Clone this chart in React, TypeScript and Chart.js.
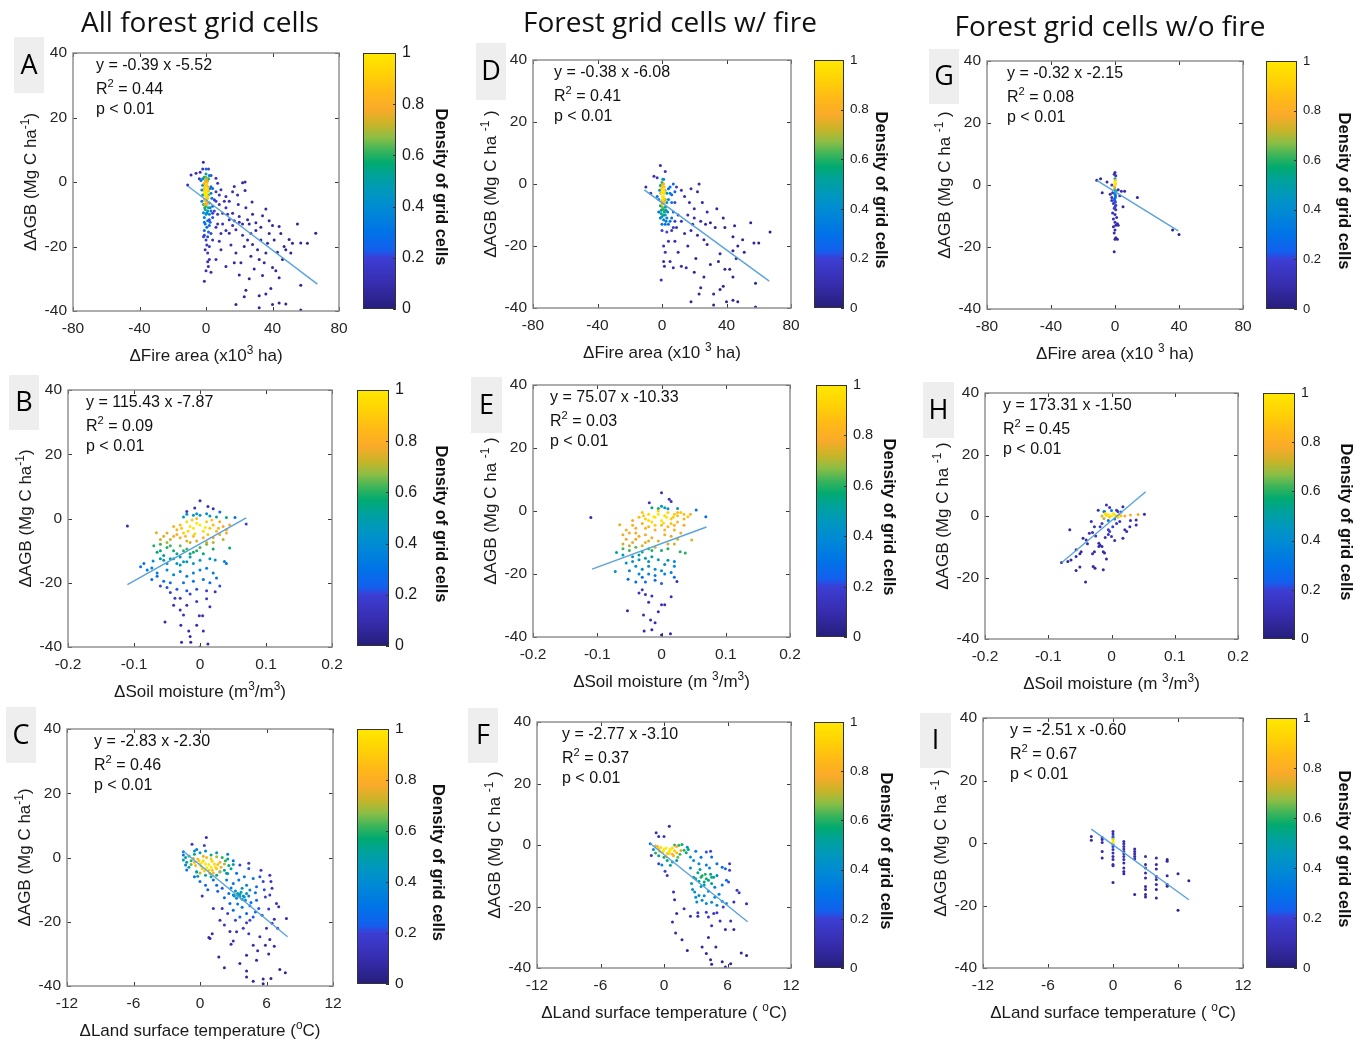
import React, { useEffect, useRef } from 'react';
import { Chart, registerables } from 'chart.js';
Chart.register(...registerables);

type P = [number, number, number]; // [x, ΔAGB, density]

// ---------- DATA ----------
const ptsA: P[] = [
  [0,-1,0.9],[0.5,-2,1],[-0.5,-3,1],[0.5,-3.5,1],[0,-4.5,0.95],[1,-5,0.9],[-1,-5.5,0.85],[0,-6,0.85],[1,-2.5,0.9],[-1,-2,0.85],[0,0,0.8],[0.5,1,0.7],
  [-1,1.5,0.55],[0,2.5,0.5],[1.5,1,0.55],[-1.5,-7,0.6],[0,-7.5,0.6],[1.5,-8,0.55],[-0.5,-8.5,0.5],[2,-6.5,0.55],[-2,-4,0.5],[1.5,-4,0.6],
  [-1.5,-9.5,0.4],[0.5,-9.5,0.4],[2,-10,0.35],[-1,-11,0.35],[1,-12,0.3],[-0.5,-13,0.3],[0.5,-14,0.28],[-1,-15,0.25],[1.5,-15.5,0.25],[2.5,-12.5,0.25],[3,-9,0.3],[-2,-1,0.4],[2.5,-2,0.35],[-2.5,-6,0.35],[3.5,-5,0.3],[-3,0.5,0.3],[4,-7.5,0.25],[4,-11,0.22],
  [-1.6,6.1,0.1],[-9,2.2,0.1],[-6,2.7,0.12],[-11,-0.9,0.1],[-4,1,0.15],[-3.5,3,0.12],[6,1.2,0.15],[7,-0.4,0.15],[17,-1.4,0.1],[22,-0.2,0.08],[23.5,0,0.08],[23.5,-2.6,0.08],[9,-2.4,0.15],[12,-4.5,0.12],[16,-3,0.12],[27.7,-6.2,0.08],[19.4,-7,0.1],[36,-8.4,0.07],[30,-12.6,0.08],[34,-10.5,0.08],[40,-13.5,0.06],[44,-13.8,0.06],[55,-13,0.05],[66,-15.9,0.04],[61,-19,0.05],[57,-18.9,0.05],[50,-17.8,0.05],[52,-19,0.05],[47,-20,0.06],[48,-21,0.06],[43,-21.8,0.06],[36,-22,0.07],[35,-25,0.07],[40,-26.5,0.06],[42,-27.5,0.06],[44,-29.7,0.05],[39,-33,0.05],[36,-34.7,0.05],[32,-35.3,0.05],[26,-30,0.06],[24,-33.6,0.06],[23,-35.6,0.05],[20,-28.8,0.06],[18,-38,0.05],[32,-39,0.05],[40,-38,0.05],[44,-37.5,0.05],[48,-37.8,0.05],[57,-39.7,0.04],[57,-32,0.05],[12,-26.2,0.08],[1,-24.7,0.12],[1.4,-26.2,0.12],[-1,-30.8,0.1],[2,-20,0.15],[4,-18,0.15],[8,-18.4,0.12],[14,-15.9,0.1],[18,-14.8,0.1],[22,-16.5,0.09],[25,-18,0.08],[28,-19.4,0.08],[25,-11.7,0.09],[20,-10.7,0.1],[16,-9.7,0.1],[14,-11.7,0.11],[10,-9.7,0.12],[8,-7,0.14],[5,-5.5,0.17],[4,-9.7,0.18],[2,-11.7,0.2],[0,-18,0.18],[1,-22,0.15],[-1,-16.5,0.2],[6,-14,0.14],[10,-13,0.12],[12,-8,0.12],[14,-6,0.11],[19,-4,0.1],[24,-8,0.09],[28,-10,0.08],[30,-15,0.07],[33,-18,0.07],[38,-16,0.06],[31,-21,0.07],[27,-23,0.07],[23,-20,0.08],[18,-22,0.08],[15,-19.5,0.09],[9,-21,0.1],[6,-24,0.1],[3,-28,0.1],[21,-25,0.07],[29,-27,0.06],[34,-29,0.06],[46,-24,0.05],[51,-22,0.05],[45,-16,0.06],[38,-12,0.06],[33,-14,0.07],[26,-13,0.08],[20,-12.5,0.09],[16,-13.5,0.1],[12,-15,0.1],[7,-10,0.14],[6,-3,0.16],[3,-1.5,0.25],[3,2,0.2],[-2,4,0.15],[1.5,4,0.2],
  [-0.5,-1.5,0.95],[0.5,-0.5,0.9],[-0.3,-4,1],[0.8,-4.2,0.95],[-0.8,-3.5,0.95],[0.3,-5.5,0.9],[-0.6,-6.8,0.75],[0.9,-6.5,0.75],[1.2,-1.5,0.85],[-1.2,-0.5,0.8],[0,1.5,0.65],[-0.5,0.5,0.75],[1,0.3,0.7],[-1,-2.8,0.9],[1.5,-2.8,0.85],[0.2,-7,0.8],[-0.8,-8,0.6],[1,-9,0.45],[0,-10,0.42],[-1,-12.5,0.3],[2.5,-8,0.35],[-2.5,-2.5,0.4],[3,-3.5,0.35],[2,-13.5,0.25],[-1.5,-17,0.2],[1,-17,0.22],[0.5,-19.5,0.18],[-0.5,-21,0.15],[2,-24,0.12],[0,-27.5,0.1],[-2,1,0.4],[2,2,0.35],[0,4,0.25],[4,-2,0.3],[5,-9,0.2],[3,-16,0.2],[6,-6,0.2],[8,-4,0.15],[7,-13,0.14],[9,-16,0.12],[11,-6,0.12],[13,-10,0.11],[17,-12,0.1],[22,-13,0.09],[27,-16,0.07],[32,-24,0.06],[17,-25,0.07],[37,-19,0.06],[41,-18,0.05]
];

const ptsB: P[] = [
  [0,-2,1],[-0.01,-3,1],[-0.02,-1,0.95],[0.005,-4,0.95],[-0.015,-2.5,1],[0.01,-1,0.9],[-0.025,-4.5,0.9],[0.015,-3,0.9],[-0.005,0,0.85],[-0.03,-2,0.85],[0.02,-2,0.85],[0.025,-4,0.82],[-0.035,-3.5,0.82],[0.03,-1,0.8],[0.035,-2.5,0.78],[-0.01,-5.5,0.85],[0.005,-6,0.8],
  [-0.04,-5.5,0.78],[-0.05,-4.5,0.75],[-0.066,-4.4,0.75],[-0.03,-6,0.78],[-0.02,-7,0.75],[0.01,-7.5,0.72],[0.03,-5,0.75],[0.04,-3.5,0.76],[0.045,-2,0.78],[0.02,-6,0.77],[-0.045,-6.5,0.72],
  [-0.06,-8,0.62],[-0.05,-9,0.6],[-0.04,-10,0.58],[-0.03,-8.5,0.65],[-0.02,-9.5,0.62],[-0.01,-10.5,0.58],[-0.065,-10.5,0.55],[-0.055,-11.5,0.52],[0,-9,0.63],[0.01,-8,0.65],[0.045,-9.2,0.55],[0.04,0.3,0.55],[-0.035,-11,0.55],
  [-0.06,-12.5,0.48],[-0.045,-12.5,0.5],[-0.03,-12,0.5],[-0.025,-13.5,0.47],[-0.015,-12,0.5],[-0.035,-14,0.45],[-0.05,-14,0.45],[-0.071,-13.2,0.42],[0.023,-12.9,0.4],[-0.01,1,0.45],[-0.02,1.3,0.45],[0,1,0.45],[0.01,1.5,0.4],
  [-0.073,-15.4,0.35],[-0.08,-16,0.33],[-0.065,-17,0.33],[-0.05,-16,0.38],[-0.04,-17.5,0.36],[-0.03,-16.5,0.38],[-0.02,-18,0.35],[-0.01,-17,0.37],[0,-16,0.38],[0.01,-15.5,0.36],[0.02,-17,0.33],[0.037,-13.4,0.35],[-0.073,-19,0.28],[-0.055,-19.5,0.28],[-0.045,-20,0.28],[-0.025,-20,0.3],[-0.01,-19.5,0.3],[0.005,-19,0.3],[0.015,-20,0.28],[-0.09,-15,0.3],[0.053,0.3,0.3],[0.07,-1.7,0.2],[0.04,-14,0.3],
  [-0.05,-21.5,0.22],[-0.035,-22,0.22],[-0.02,-22.5,0.22],[-0.03,-24.8,0.18],[-0.038,-24.8,0.18],[-0.005,-22,0.22],[0.01,-22.5,0.2],[0.023,-22.8,0.15],[-0.06,-21,0.2],[-0.005,-25.8,0.18],
  [-0.11,-2.3,0.08],[0,5.5,0.1],[-0.008,3.3,0.12],[0.012,3.7,0.12],[0.02,3,0.12],[-0.02,2.2,0.15],[0.015,-27.5,0.12],[-0.02,-27,0.13],[-0.03,-28.5,0.12],[-0.04,-27,0.12],[-0.053,-32.2,0.08],[-0.029,-33.2,0.1],[-0.017,-35,0.1],[-0.015,-36.7,0.09],[-0.005,-33.2,0.1],[-0.001,-30.3,0.12],[0.004,-30.3,0.12],[-0.028,-38.5,0.08],[-0.014,-38.5,0.08],[0,-40,0.07],[0.012,-39.1,0.07],[-0.025,-30,0.12],[0.005,-35,0.1],
  [-0.005,-1.5,1],[0.008,-2.8,1],[-0.018,-4,0.95],[-0.008,-4.8,0.92],[0.012,-5,0.88],[0.018,-0.5,0.88],[-0.012,-0.5,0.9],[-0.028,-3,0.88],[0.028,-3,0.82],[-0.022,-5.5,0.85],[-0.04,-2.5,0.8],[-0.035,-5,0.8],[0.04,-4.5,0.78],[-0.055,-5.5,0.74],[-0.06,-6.5,0.72],[-0.015,-7.5,0.72],[-0.005,-7,0.74],[0.02,-7.5,0.7],[0.035,-6.5,0.7],[-0.05,-7.5,0.68],[-0.07,-8.5,0.6],[-0.045,-8.5,0.62],[-0.025,-10,0.6],[-0.015,-11,0.55],[-0.005,-10,0.6],[0.005,-11,0.55],[0.02,-9.5,0.58],[-0.06,-10,0.55],[-0.04,-12.5,0.5],[-0.02,-13.5,0.48],[-0.03,-14.5,0.45],[-0.01,-14,0.45],[-0.055,-13,0.47],[0,-13,0.45],[0.015,-12.5,0.45],[-0.005,1.5,0.45],[0.015,0.8,0.45],[-0.025,0.5,0.5],[0.025,0.5,0.5],[0.03,2,0.3],[-0.015,-23.5,0.2],[0.01,-25,0.18],[-0.045,-23,0.2],[0.025,-18.5,0.3],[0.03,-21,0.22],[-0.065,-18,0.3],[-0.085,-14,0.3]
];

const ptsC: P[] = [
  [0.5,-2,1],[1,-3,1],[0.3,-1,0.95],[1.3,-2,0.95],[0,-2,0.9],[0.8,-4,0.9],[1.5,-3.5,0.88],[-0.2,-0.5,0.85],[0.6,0,0.85],[1.8,-1.5,0.8],[-0.5,-1.5,0.82],[1.2,-4.8,0.8],[0.2,-3.5,0.9],
  [-1,0.5,0.6],[-0.8,-1,0.6],[-0.5,1,0.55],[1,0.8,0.58],[2,0,0.6],[2.3,-1,0.6],[2.6,-2.5,0.58],[2.2,-4,0.55],[1.5,-5.5,0.55],[0.5,-5.5,0.55],[-0.3,-4.5,0.52],[-1,-3,0.5],[0,1.5,0.5],[2.8,-3.5,0.5],
  [-1.5,1.8,0.28],[-1.5,0.8,0.3],[-0.72,4.1,0.15],[0.39,3.7,0.2],[0.57,6.2,0.1],[-1.2,-3.9,0.3],[-1.3,-2.3,0.35],[-0.3,-4.4,0.35],[-0.5,-6,0.3],[0,-7.5,0.3],[0.5,-8.6,0.28],[1.2,-7,0.3],[1.5,-8.6,0.25],[2,-9.6,0.22],[1.8,-4.4,0.4],[2.4,-4.9,0.35],[3,-1,0.3],[-0.3,2.5,0.3],[0.2,-12,0.12],[3.3,-4.9,0.28],
  [3.2,-10.4,0.42],[3.4,-11.2,0.45],[3.6,-12.2,0.45],[3.3,-12.7,0.4],[3.8,-9.6,0.42],[4.2,-11.2,0.42],[4.1,-13.3,0.38],[3,-11.7,0.38],[4.2,-8.6,0.35],[4.5,-10.1,0.38],[3.6,-11.5,0.48],[3.9,-12,0.45],
  [3.6,-2.3,0.2],[4.4,-1.8,0.18],[4.4,-3.4,0.22],[5.4,-6,0.22],[6.3,-5.5,0.15],[5.7,-7.5,0.2],[6.4,-7.5,0.15],[6.5,-9.6,0.15],[6.3,-11.7,0.15],[6.9,-14.3,0.12],[7.1,-15.3,0.12],[5.9,-12.3,0.2],[5.1,-9.1,0.28],[5.1,-13.3,0.25],[5.3,-15.9,0.22],[4.8,-18.5,0.22],[4.2,-17.4,0.25],[3.6,-18.5,0.25],[3,-16.4,0.27],[2.7,-14.3,0.28],[2.6,-11.2,0.3],[3,-8.1,0.3],[4.8,-6.5,0.3],[4,-6,0.3],[3.5,-7,0.32],[4.5,-15,0.3],[3.8,-15.5,0.3],[5,-17,0.25],[5.8,-10,0.22],[2.2,-12.5,0.25],[4.5,-19.5,0.2],[3.2,-19.5,0.2],[5.5,-4,0.18],
  [1.2,-15.9,0.12],[2,-15.9,0.15],[1.8,-19.5,0.12],[1.1,-23.7,0.1],[0.9,-25.2,0.08],[1.7,-31,0.06],[2.2,-34.3,0.06],[3.6,-33,0.07],[4.2,-30.4,0.08],[5.1,-32,0.07],[4.2,-35.3,0.07],[4.2,-37.2,0.06],[4.8,-38.5,0.06],[5.7,-37.8,0.06],[5.7,-39.3,0.05],[6.4,-37.7,0.05],[7.2,-34.9,0.05],[7.7,-35.9,0.05],[7.8,-19,0.08],[6.7,-19.2,0.1],[6.3,-25.5,0.1],[6.7,-27.6,0.08],[5.9,-27.3,0.1],[5.4,-24.7,0.12],[4.8,-27.3,0.12],[4.4,-23.7,0.15],[4.2,-20.3,0.18],[3.3,-23.1,0.12],[2.7,-23,0.12],[2.5,-17.4,0.2],[0.8,-24.9,0.09],[2.8,-27,0.1],[6,-22,0.12],[7,-22,0.1],
  [0.2,-1.5,1],[0.8,-2.2,1],[1.1,-1.2,0.95],[0.6,-3.2,1],[1.4,-3,0.95],[0.1,-2.7,0.95],[-0.1,-1,0.9],[1,-0.5,0.9],[1.6,-2.2,0.88],[0.4,-4.2,0.9],[1.1,-4,0.88],[-0.4,-2.5,0.82],[1.9,-3,0.78],[0.3,0.4,0.78],[-0.6,-0.3,0.75],[1.5,0.2,0.7],[2.2,-2,0.7],[1.8,-4.5,0.7],[0.9,-5,0.72],[0,-4.8,0.7],[-0.8,-2.2,0.65],[-1.3,0,0.5],[-1.2,-1.5,0.5],[2.5,-0.5,0.55],[3,-2.2,0.5],[2.5,-5,0.5],[1,-6,0.5],[-0.2,-5.8,0.45],[-1.5,-0.8,0.45],[-0.5,2,0.42],[0.5,2,0.4],[1.5,1.5,0.45],[2.5,1,0.35],[3.4,-11.8,0.5],[3.7,-10.8,0.48],[4,-12.3,0.45],[3.1,-12,0.45],[3.8,-13,0.42],[4.4,-12,0.38],[2.8,-9.5,0.32],[5,-11,0.3],[4.6,-14,0.3],[3.4,-14.5,0.32],[2.4,-7,0.35],[1.6,-10.5,0.25],[0.7,-10,0.25],[5.6,-18,0.22],[6.2,-16,0.18],[6.5,-20.5,0.12],[3.9,-22,0.18],[2.2,-21,0.15],[3,-26,0.12],[5.2,-29,0.1],[6.2,-30,0.08]
];

const ptsD: P[] = [
  [0.5,-1,0.9],[1,-2,1],[0,-3,1],[1,-4,1],[0.5,-5,0.95],[1.5,-6,0.85],[0,-6.5,0.85],[1,0,0.8],[-0.5,-1.5,0.85],
  [0,0.5,0.6],[-1,-0.5,0.55],[0.5,-8,0.6],[1.5,-9,0.55],[-0.5,-9.5,0.55],[2,-7.5,0.55],[-1,-7,0.55],[2,-10,0.5],
  [3,-3,0.4],[4,-5,0.38],[5,-3,0.35],[6,-6,0.33],[3,-11,0.35],[1,-11.5,0.35],[-1,-11,0.35],[5,-12,0.3],[4,-13,0.3],[2,-13,0.3],[7,-9,0.28],[6,-11,0.28],[-2,-5,0.35],[-3,-4,0.3],[5,-1,0.3],[8,-2.5,0.25],[7,0,0.25],[1,1.5,0.3],
  [-1,6,0.1],[2,4,0.15],[-5,2.5,0.12],[-10,-1,0.1],[-7,-3,0.1],[-3,2,0.15],
  [18,-1.5,0.1],[23,0,0.08],[22,-2.5,0.08],[14,-4,0.12],[12,-2,0.12],[17,-6,0.1],[20,-8,0.1],[25,-6,0.08],[28,-9,0.08],[34,-8,0.07],[30,-12.5,0.07],[39,-14,0.06],[45,-13.5,0.05],[55,-12.5,0.05],[67,-15.5,0.04],[60,-19,0.04],[57,-19,0.05],[50,-18,0.05],[47,-20,0.05],[44,-21.5,0.05],[36,-22.5,0.06],[35,-25,0.06],[39,-27.5,0.05],[42,-27.5,0.05],[44,-30,0.05],[38,-33,0.05],[36,-34,0.05],[32,-35.5,0.05],[26,-30,0.06],[24,-33.5,0.06],[23,-35.5,0.05],[20,-28.5,0.06],[18,-38,0.05],[32,-39,0.05],[40,-38,0.05],[44,-37.5,0.05],[47,-38,0.05],[58,-39.7,0.04],[58,-32,0.04],[12,-26.5,0.08],[1,-25,0.1],[1.5,-26.5,0.1],[-0.5,-31,0.1],[1,-20,0.12],[4,-18.5,0.12],[8,-18.5,0.1],[14,-16,0.1],[18,-15,0.09],[22,-16.5,0.08],[26,-18,0.07],[28,-19.5,0.07],[24,-12,0.08],[20,-11,0.09],[16,-10,0.1],[12,-12,0.11],[10,-10,0.12],[3,-15.5,0.2],[0,-15,0.2],[6,-15,0.15],[9,-14,0.13],[2,-22,0.12],[10,-22,0.09],[16,-20,0.08],[21,-24,0.07],[30,-26,0.06],[46,-24,0.05],[51,-22,0.05],[44,-17,0.05],[38,-11,0.06],[33,-14,0.06],[27,-13,0.07],[19,-13,0.08],[5,-25,0.1],[7,-27,0.09],[15,-27,0.08],
  [0.3,-2.5,1],[1.3,-3,0.95],[0.2,-4.2,1],[1.5,-4.8,0.9],[-0.3,-5.5,0.85],[0.8,-6,0.85],[1.3,-1,0.85],[0.2,-0.3,0.8],[-0.8,-3,0.75],[2,-2,0.7],[2,-5,0.65],[0.3,-7.5,0.65],[1,-8.5,0.6],[-0.5,-8.5,0.55],[1,-10,0.5],[0,-10.5,0.45],[2.5,-8.5,0.45],[3,-6,0.42],[-1.5,-2,0.45],[0.5,1.5,0.45],[3.5,-9,0.35],[4,-1.5,0.3],[6,-3.5,0.25],[2.5,-12,0.3],[0,-13,0.3],[8,-6,0.2],[9,-1,0.18],[8,-12,0.18],[7,-14,0.15],[-2,-9,0.3]
];

const ptsE: P[] = [
  [-0.01,-2,1],[0,-3,1],[-0.02,-1,0.95],[0.005,-1.5,0.95],[-0.015,-3.5,0.95],[0.01,-0.5,0.92],[-0.005,0,0.9],[-0.025,-2.5,0.9],[0.015,-2.5,0.9],[0.02,-1,0.88],[0.041,-1.8,0.88],[-0.03,-0.5,0.88],[0.03,-0.5,0.87],
  [-0.03,-4,0.8],[-0.04,-5.5,0.8],[-0.02,-5,0.82],[-0.01,-6,0.8],[0,-4.5,0.85],[0.01,-5,0.82],[0.02,-6,0.8],[-0.05,-7,0.78],[-0.035,-8,0.78],[-0.015,-8.5,0.78],[0.005,-7.5,0.78],[-0.055,-9,0.76],[-0.045,-10,0.76],[-0.025,-10,0.76],[-0.005,-9.5,0.76],[0.015,-8,0.76],[-0.065,-4.4,0.75],[-0.06,-7.5,0.76],[0.047,-9.2,0.74],[0.025,-3.5,0.82],[-0.045,-3,0.78],[-0.03,-11,0.74],[-0.01,-11.5,0.72],[0.03,-7,0.77],[0.01,-10.5,0.74],
  [-0.06,-12,0.62],[-0.05,-12.5,0.62],[-0.04,-11.5,0.64],[-0.02,-12,0.6],[-0.03,-13,0.58],[0,-12.5,0.58],[0.029,-12.9,0.6],[0.037,-13.3,0.6],[-0.07,-13.2,0.5],[-0.015,1,0.55],[-0.005,0.8,0.58],[0.005,1,0.52],
  [-0.06,-14,0.48],[-0.045,-14.5,0.48],[-0.035,-15.5,0.47],[-0.025,-15,0.48],[-0.015,-14.5,0.48],[-0.005,-15.5,0.45],[0.01,-15.6,0.43],[0.02,-16,0.4],[-0.055,-16.5,0.42],[-0.04,-17.5,0.42],[-0.03,-18.5,0.4],[-0.02,-17.5,0.42],[-0.01,-18.5,0.4],[0,-19,0.38],[-0.072,-19.2,0.42],[-0.05,-19,0.38],[-0.035,-20,0.37],[-0.02,-20,0.36],[0.005,-20,0.35],[0.015,-19.5,0.35],[0.01,0.7,0.4],[0,1.5,0.4],[0.02,-17.5,0.38],
  [-0.052,-21.7,0.25],[-0.04,-22.5,0.25],[-0.025,-22.5,0.25],[-0.01,-22,0.25],[0,-23,0.22],[0.054,0.3,0.3],[0.069,-1.8,0.25],
  [-0.11,-2.1,0.08],[0,5.8,0.1],[-0.019,2.6,0.15],[0.012,3.7,0.12],[0.015,3,0.12],[0.024,-22.4,0.12],[-0.03,-25,0.15],[-0.035,-26,0.14],[-0.025,-26.5,0.14],[-0.015,-27,0.14],[0.015,-27.2,0.12],[0,-29.8,0.12],[0.005,-29.8,0.12],[-0.02,-29,0.13],[-0.053,-31.7,0.08],[-0.028,-33,0.1],[-0.017,-34.6,0.1],[-0.01,-35.5,0.1],[-0.027,-38.1,0.08],[-0.015,-37.7,0.08],[0,-39.4,0.07],[0.014,-39,0.07],[-0.005,-32,0.11],
  [-0.005,-1,1],[0.008,-2,1],[-0.012,-1.8,1],[0.003,-3.8,0.95],[-0.02,-3,0.95],[0.018,-2,0.9],[-0.028,-1.5,0.9],[0.025,-1.5,0.88],[-0.035,-2,0.85],[0.035,-1,0.85],[0.015,-4,0.88],[-0.01,-4.5,0.9],[-0.025,-5.5,0.82],[0.005,-6,0.82],[-0.045,-4.5,0.8],[-0.055,-6,0.76],[-0.04,-7,0.78],[-0.025,-7.5,0.78],[0.02,-4.5,0.82],[0.035,-4.5,0.78],[-0.02,-9.5,0.75],[-0.04,-9,0.76],[0.025,-9,0.74],[0.02,-10.5,0.72],[-0.05,-11,0.7],[0.025,-0.5,0.86],[0.035,-2.5,0.8],[0.045,-1,0.8],[-0.06,-10.5,0.72],[-0.015,-12.5,0.6],[0.01,-12,0.6],[-0.035,-14,0.5],[-0.02,-16,0.45],[0.005,-17,0.42],[-0.045,-16,0.45],[-0.01,-20.5,0.35],[-0.03,-21,0.3],[0.02,-21,0.28],[0.025,0.8,0.45]
];

const ptsF: P[] = [
  [0,-1.5,1],[0.5,-2,1],[-0.3,-0.8,0.95],[0.8,-1,0.95],[0.3,-2.8,0.9],[-0.4,-2,0.88],[1.2,-2.5,0.85],[0.9,-3.5,0.82],[-0.6,-0.5,0.85],
  [1,0,0.62],[1.4,-0.1,0.6],[1.9,-1.7,0.6],[1.5,-3,0.62],[0.3,-5,0.55],[0.6,-6.6,0.5],[-0.5,-3.5,0.55],[1.7,0.2,0.58],[2.1,-2.5,0.55],[0,-4,0.58],
  [2.2,-0.7,0.4],[2.5,-3.9,0.42],[2.8,-5,0.42],[3.3,-6.1,0.4],[-1,-1.5,0.4],[1.2,-5,0.45],[-0.2,-6.5,0.4],[3,-2,0.35],[-1.3,0.4,0.3],
  [3.2,-9,0.55],[3.6,-10,0.58],[4,-11,0.58],[4.4,-9.5,0.55],[3,-11,0.5],[3.8,-12,0.55],[4.5,-12.5,0.5],[4.7,-10.5,0.52],[3.4,-8,0.5],[2.8,-10.5,0.45],
  [2.7,-14.5,0.42],[2.9,-15.3,0.42],[3.3,-16.4,0.4],[3.5,-13.5,0.45],[3.1,-18.5,0.38],[3.6,-18,0.4],[4,-19,0.4],[4.5,-18.6,0.42],[5,-19.6,0.4],[5.5,-18.3,0.4],[5.9,-19,0.38],[4.2,-15,0.4],[4.8,-13.7,0.35],[5,-9.9,0.35],[2.5,-7.5,0.4],[4,-6.5,0.35],[5.2,-16,0.35],
  [4,-2.3,0.22],[4.4,-2,0.2],[4.5,-3.9,0.25],[5,-6.1,0.28],[5.5,-7.2,0.25],[5.8,-7.7,0.25],[6.2,-6.1,0.18],[6.2,-8.2,0.2],[5.9,-11.5,0.25],[6.1,-12,0.22],[6.9,-14.7,0.15],[7.1,-15.5,0.15],[3.5,-4,0.3],[5.5,-13,0.3],
  [0.5,6.1,0.08],[-0.74,4,0.1],[0,2.8,0.15],[-0.5,2.8,0.12],[-1.2,-3.4,0.15],[-0.5,-6.1,0.2],[0.3,-9.9,0.15],[0.1,-8.5,0.2],[0.9,-15.3,0.1],[1,-17.8,0.1],[1.9,-20.7,0.12],[1.2,-22.3,0.1],[0.8,-25,0.09],[2.5,-23.2,0.12],[3.2,-22,0.15],[1.1,-28.6,0.08],[1.7,-30.8,0.07],[2.2,-34.3,0.06],[3.6,-33.2,0.07],[4.2,-30.1,0.08],[4.9,-33.2,0.07],[4,-35.3,0.06],[4.4,-37.3,0.06],[4.5,-38.8,0.05],[5.5,-38,0.05],[5.8,-39.7,0.05],[6.3,-38.6,0.05],[7.3,-35.1,0.05],[7.8,-35.9,0.05],[7.8,-19.1,0.08],[6.6,-18.5,0.1],[6.3,-24.7,0.1],[6.6,-27.5,0.08],[5.8,-27.5,0.1],[5.3,-24.7,0.12],[4.5,-26.3,0.12],[4.2,-23.4,0.15],[4,-21.9,0.18],[3.2,-23.2,0.13],[4.7,-22.3,0.15],[5.6,-20.2,0.18],[5,-22,0.15],
  [0.2,-1,1],[0.6,-1.4,1],[-0.1,-2.2,0.95],[0.5,-2.8,0.92],[1,-1.9,0.9],[-0.5,-1.3,0.88],[1.2,-0.5,0.8],[0.8,-3,0.82],[1.6,-1.8,0.75],[-0.8,-0.3,0.75],[0.2,-3.8,0.75],[1.3,-4,0.65],[2.3,-1.5,0.55],[-0.8,-2.6,0.6],[0.8,-5.5,0.5],[3.5,-10.5,0.6],[3.9,-9.5,0.6],[4.2,-11.5,0.55],[3.3,-11.8,0.52],[4.5,-10.5,0.55],[3.8,-13,0.45],[2.6,-12.5,0.45],[4.3,-7.5,0.4],[3,-17,0.4],[4.8,-17,0.4],[3.8,-16.5,0.42]
];

const ptsG: P[] = [
  [0,1,1],[0,0,0.95],[0.3,0.5,0.9],[-0.3,-0.5,0.8],[0,-1.5,0.6],[0.5,-2,0.5],[0,-2.5,0.4],[0.3,-3.5,0.3],[-0.3,-4.5,0.25],[0,2,0.4],[0.5,3,0.15],[-0.5,3.5,0.12],[0,4,0.1],
  [0,-5.5,0.2],[-1,-6,0.15],[0.5,-6.5,0.18],[-0.5,-7.5,0.15],[0.5,-8,0.15],[-1.5,-9,0.12],[0,-9.5,0.13],[1,-10.5,0.12],[-1,-11,0.12],[0,-12,0.12],[0.5,-13,0.1],[-1,-13.5,0.1],[0,-14.5,0.1],[-0.5,-15.5,0.1],[0.5,-17,0.08],[1.5,-17.5,0.08],[0,-17.5,0.08],[-0.5,-21.5,0.06],[1.5,-12.5,0.1],[-2,-5,0.12],[-3,-3,0.1],[-2,-4,0.12],[-1.5,-2.5,0.15],
  [-11.4,1.5,0.06],[-9,2,0.06],[-5,1,0.08],[-8,-2.5,0.06],[-2,0,0.15],[2,-1.5,0.12],[4,-2,0.1],[6,-2,0.08],[5,-7,0.07],[3,-3.5,0.1],[14,-4,0.05],[36,-14.5,0.04],[40,-16,0.04],[2,-13,0.1],
  [0,0.5,1],[0.2,1.5,0.9],[-0.2,-1,0.7],[0,-3,0.35],[0.2,-4,0.3],[-0.2,-5,0.22],[0.2,-5.5,0.2],[0,-7,0.18]
];

const ptsH: P[] = [
  [-0.005,0.5,1],[0,0,1],[-0.01,0.8,0.95],[0.005,0.3,0.95],[-0.003,-0.3,0.9],[0.01,-0.4,0.9],[0.012,0.5,0.85],[0.021,0,0.8],[0.042,0.5,0.78],[-0.015,0,0.75],
  [-0.012,1.5,0.35],[0,1.8,0.3],[0.015,1.3,0.3],[-0.005,-1.5,0.3],[0.005,-1,0.35],
  [-0.066,-4.5,0.08],[-0.079,-15.1,0.06],[-0.069,-14.8,0.06],[-0.064,-14.3,0.07],[-0.056,-13.2,0.07],[-0.056,-11,0.07],[-0.048,-11.6,0.08],[-0.05,-12.3,0.08],[-0.045,-7.2,0.08],[-0.04,-7.8,0.08],[-0.035,-5.6,0.1],[-0.03,-5.4,0.1],[-0.027,-3.5,0.12],[-0.032,-1.8,0.1],[-0.021,1.9,0.12],[-0.008,3.6,0.12],[-0.003,2.8,0.13],[-0.011,1.4,0.15],[0.008,1.9,0.14],[0.018,3,0.1],[0.01,1.5,0.14],[0.052,0.6,0.08],[0.039,-1.3,0.1],[0.039,-2.9,0.1],[0.029,-3.5,0.11],[0.021,-4.5,0.12],[0.024,-5,0.11],[0.018,-7.2,0.1],[0.008,-2.4,0.16],[0.013,-1.8,0.15],[0.002,-3.5,0.18],[-0.005,-4.5,0.18],[-0.003,-5,0.17],[-0.005,-6,0.16],[0,-6.7,0.15],[-0.015,-2.4,0.15],[-0.018,-3.5,0.15],[-0.02,-8.9,0.1],[-0.018,-9.5,0.1],[-0.02,-9.9,0.1],[-0.015,-9.9,0.1],[-0.027,-11.6,0.09],[-0.03,-12.3,0.09],[-0.013,-11.6,0.09],[-0.011,-12,0.09],[-0.008,-14,0.08],[-0.029,-16.4,0.07],[-0.026,-17,0.07],[-0.013,-17.5,0.07],[-0.041,-21.5,0.06],[-0.05,-16.6,0.07],[-0.056,-17.7,0.06],[-0.038,-9,0.08],[-0.01,-7,0.13],[0.005,-8,0.12],[0.03,-1.5,0.12],[-0.025,-6.5,0.11],
  [0.003,0.8,1],[-0.008,0.2,0.95],[0.015,0.1,0.88],[0.008,-0.1,0.95],[0.03,0.3,0.8],[-0.012,-0.8,0.7]
];

const ptsI: P[] = [
  [-2,2.1,0.08],[-2,0.9,0.08],
  [-1,1.8,0.1],[-1,1.1,0.1],[-1,0.2,0.1],[-1,-2.7,0.08],[-1,-4.8,0.08],
  [0,3.7,0.1],[0,2.9,0.12],[0,2.1,0.2],[0,1.6,0.35],[0,1.1,0.9],[0,0.5,1],[0,0.2,0.95],[0,-0.5,0.3],[0,-1.1,0.2],[0,-2.1,0.15],[0,-3.2,0.12],[0,-4.3,0.1],[0,-5.3,0.1],[0,-6.9,0.1],[0,-7.3,0.1],[0,-12.6,0.06],
  [1,0.5,0.12],[1,-0.2,0.12],[1,-1.1,0.14],[1,-1.9,0.15],[1,-2.7,0.15],[1,-3.4,0.14],[1,-4.3,0.13],[1,-5.3,0.12],[1,-6.4,0.1],[1,-8,0.1],[1,-9.1,0.08],[1,-9.8,0.08],
  [2,-1.9,0.1],[2,-2.7,0.1],[2,-3.5,0.1],[2,-4.3,0.1],[2,-5.1,0.1],[2,-16.5,0.06],
  [3,-4.3,0.08],[3,-6.9,0.08],[3,-8,0.09],[3,-9.6,0.09],[3,-11.2,0.08],[3,-13.9,0.08],[3,-14.9,0.08],[3,-16.5,0.07],[3,-17.3,0.07],
  [4,-4.8,0.07],[4,-6.9,0.08],[4,-8.3,0.08],[4,-10.7,0.08],[4,-11.7,0.08],[4,-13.3,0.08],[4,-14.9,0.07],[4,-17.6,0.06],
  [5,-5.3,0.06],[5,-5.8,0.06],[5,-10.5,0.06],[5,-13.3,0.07],[5,-13.8,0.07],
  [6,-9.8,0.05],[6,-21.5,0.04],
  [7,-12.1,0.04]
];

// panel order: A B C (column 1), D E F (column 2), G H I (column 3)
const panelPoints: P[][] = [ptsA, ptsB, ptsC, ptsD, ptsE, ptsF, ptsG, ptsH, ptsI];
const panelLetters = ['A', 'B', 'C', 'D', 'E', 'F', 'G', 'H', 'I'];
const fitSlopes = [-0.39, 115.43, -2.83, -0.38, 75.07, -2.77, -0.32, 173.31, -2.51];
const fitIntercepts = [-5.52, -7.87, -2.30, -6.08, -10.33, -3.10, -2.15, -1.50, -0.60];
const fitR2 = ['0.44', '0.09', '0.46', '0.41', '0.03', '0.37', '0.08', '0.45', '0.67'];
const fitXFrom = [-11, -0.11, -1.5, -11, -0.108, -1.3, -11.4, -0.079, -2];
const fitXTo = [67, 0.07, 7.9, 66.5, 0.07, 7.9, 39.5, 0.054, 7];
const columnTitles = ['All forest grid cells', 'Forest grid cells w/ fire', 'Forest grid cells w/o fire'];
const xMinByRow = [-80, -0.2, -12];
const xMaxByRow = [80, 0.2, 12];
const xStepByRow = [40, 0.1, 6];
const yMin = -40, yMax = 40, yStep = 20;
const colorbarTicks = [0, 0.2, 0.4, 0.6, 0.8, 1];

// ---------- STYLE / LAYOUT ----------
const FONT = '"Liberation Sans", Arial, sans-serif';
const TFONT = '"Open Sans", "Liberation Sans", sans-serif';
const CMAP: [number, number, number, number][] = [
  [0, 38, 30, 122], [0.1, 55, 45, 175], [0.2, 60, 62, 212], [0.23, 20, 95, 238], [0.3, 0, 115, 232],
  [0.4, 0, 140, 210], [0.46, 0, 152, 188], [0.52, 0, 162, 155], [0.57, 0, 170, 112], [0.62, 60, 180, 90],
  [0.67, 140, 190, 70], [0.72, 200, 180, 40], [0.78, 250, 170, 42], [0.85, 255, 186, 22], [0.92, 255, 210, 5], [1, 255, 232, 0]
];
function cmap(v: number) {
  const t = Math.max(0, Math.min(1, v));
  for (let k = 1; k < CMAP.length; k++) {
    if (t <= CMAP[k][0]) {
      const a = CMAP[k - 1], b = CMAP[k];
      const f = (t - a[0]) / (b[0] - a[0]);
      const c = [1, 2, 3].map(j => Math.round(a[j] + (b[j] - a[j]) * f));
      return `rgb(${c[0]},${c[1]},${c[2]})`;
    }
  }
  return 'rgb(255,232,0)';
}

type Lay = { plot: number[]; cb: number[]; box: number[]; cbFont: number; dlx: number; ann: number };
const LAYOUT: Lay[] = [
  { plot: [73, 53, 339, 311], cb: [363, 53, 396, 309], box: [14, 37, 44, 93], cbFont: 16, dlx: 46, ann: 23 },
  { plot: [68, 390, 332, 647], cb: [357, 390, 389, 646], box: [9, 375, 39, 430], cbFont: 16, dlx: 53, ann: 18 },
  { plot: [67, 729, 333, 986], cb: [357, 729, 389, 984], box: [6, 707, 36, 763], cbFont: 15.5, dlx: 50, ann: 27 },
  { plot: [533, 60, 791, 308], cb: [814, 60, 844, 308], box: [476, 43, 506, 100], cbFont: 13.5, dlx: 38, ann: 21 },
  { plot: [533, 385, 790, 637], cb: [816, 385, 847, 637], box: [471, 377, 502, 433], cbFont: 14.5, dlx: 43, ann: 17 },
  { plot: [537, 722, 791, 968], cb: [814, 722, 844, 968], box: [468, 708, 498, 763], cbFont: 13.5, dlx: 43, ann: 25 },
  { plot: [987, 61, 1243, 309], cb: [1266, 61, 1297, 309], box: [929, 49, 959, 104], cbFont: 13, dlx: 48, ann: 20 },
  { plot: [985, 393, 1238, 639], cb: [1263, 393, 1295, 639], box: [923, 382, 954, 438], cbFont: 14, dlx: 52, ann: 18 },
  { plot: [983, 718, 1243, 968], cb: [1266, 718, 1297, 968], box: [920, 713, 951, 768], cbFont: 13.5, dlx: 48, ann: 27 },
];
const TITLE_POS = [{ cx: 200, top: 6 }, { cx: 670, top: 6 }, { cx: 1110, top: 10 }];
const PADL = 75, PADT = 25, PADR = 125, PADB = 75;

type Part = [string, boolean];
function xTitle(row: number, col: number): Part[] {
  const sp = col === 0 ? '' : ' ';
  if (row === 0) return [['ΔFire area (x10' + sp, false], ['3', true], [' ha)', false]];
  if (row === 1) return [['ΔSoil moisture (m' + sp, false], ['3', true], ['/m', false], ['3', true], [')', false]];
  return [['ΔLand surface temperature (' + sp, false], ['o', true], ['C)', false]];
}
function yTitle(col: number): Part[] {
  return col === 0
    ? [['ΔAGB (Mg C ha', false], ['-1', true], [')', false]]
    : [['ΔAGB (Mg C ha ', false], ['-1', true], [' )', false]];
}

function drawRich(ctx: CanvasRenderingContext2D, parts: Part[], x: number, y: number, size: number, align: 'left' | 'center', weight = 'normal') {
  const sup = size * 0.7;
  ctx.textAlign = 'left';
  ctx.textBaseline = 'alphabetic';
  let w = 0;
  for (const [t, s] of parts) { ctx.font = `${weight} ${s ? sup : size}px ${FONT}`; w += ctx.measureText(t).width; }
  let cx = align === 'center' ? x - w / 2 : x;
  for (const [t, s] of parts) {
    ctx.font = `${weight} ${s ? sup : size}px ${FONT}`;
    ctx.fillText(t, cx, s ? y - size * 0.42 : y);
    cx += ctx.measureText(t).width;
  }
}

function makeDecor(i: number) {
  return {
    id: 'decor' + i,
    afterDraw(chart: any) {
      const ctx: CanvasRenderingContext2D = chart.ctx;
      const L = LAYOUT[i];
      const ox = L.plot[0] - PADL, oy = L.plot[1] - PADT;
      const col = Math.floor(i / 3), row = i % 3;
      const { left, top, right, bottom } = chart.chartArea;
      const xs = chart.scales.x, ys = chart.scales.y;
      ctx.save();
      // inner tick marks on all four sides
      ctx.strokeStyle = '#3a3a3a';
      ctx.lineWidth = 1;
      ctx.beginPath();
      xs.ticks.forEach((t: any) => {
        const px = Math.round(xs.getPixelForValue(t.value)) + 0.5;
        ctx.moveTo(px, bottom); ctx.lineTo(px, bottom - 4);
        ctx.moveTo(px, top); ctx.lineTo(px, top + 4);
      });
      ys.ticks.forEach((t: any) => {
        const py = Math.round(ys.getPixelForValue(t.value)) + 0.5;
        ctx.moveTo(left, py); ctx.lineTo(left + 4, py);
        ctx.moveTo(right, py); ctx.lineTo(right - 4, py);
      });
      ctx.stroke();
      // frame
      ctx.strokeStyle = '#8a8a8a';
      ctx.lineWidth = 1.4;
      ctx.strokeRect(left, top, right - left, bottom - top);

      // regression text
      ctx.fillStyle = '#111';
      const ax = left + L.ann;
      const eq = `y = ${fitSlopes[i].toFixed(2)} x ${fitIntercepts[i].toFixed(2)}`;
      drawRich(ctx, [[eq, false]], ax, top + 17, 16, 'left');
      drawRich(ctx, [['R', false], ['2', true], [' = ' + fitR2[i], false]], ax, top + 41, 16, 'left');
      drawRich(ctx, [['p < 0.01', false]], ax, top + 61, 16, 'left');

      // axis titles
      ctx.fillStyle = '#1a1a1a';
      drawRich(ctx, xTitle(row, col), (left + right) / 2, bottom + 44 + 6, 17, 'center');
      ctx.save();
      ctx.translate(left - 43, (top + bottom) / 2);
      ctx.rotate(-Math.PI / 2);
      drawRich(ctx, yTitle(col), 0, 17 * 0.36, 17, 'center');
      ctx.restore();

      // colorbar
      const cx0 = L.cb[0] - ox, cy0 = L.cb[1] - oy, cx1 = L.cb[2] - ox, cy1 = L.cb[3] - oy;
      const g = ctx.createLinearGradient(0, cy1, 0, cy0);
      CMAP.forEach(s => g.addColorStop(s[0], `rgb(${s[1]},${s[2]},${s[3]})`));
      ctx.fillStyle = g;
      ctx.fillRect(cx0, cy0, cx1 - cx0, cy1 - cy0);
      ctx.strokeStyle = '#333';
      ctx.lineWidth = 1;
      ctx.strokeRect(cx0 + 0.5, cy0 + 0.5, cx1 - cx0 - 1, cy1 - cy0 - 1);
      ctx.beginPath();
      colorbarTicks.forEach(v => {
        const py = Math.round(cy1 - v * (cy1 - cy0)) + 0.5;
        ctx.moveTo(cx1, py); ctx.lineTo(cx1 - 3, py);
      });
      ctx.stroke();
      ctx.fillStyle = '#1a1a1a';
      ctx.font = `${L.cbFont}px ${FONT}`;
      ctx.textAlign = 'left';
      ctx.textBaseline = 'middle';
      colorbarTicks.forEach(v => {
        const py = cy1 - v * (cy1 - cy0);
        ctx.fillText(String(v), cx1 + 6, py);
      });
      ctx.save();
      ctx.translate(cx1 + L.dlx, (cy0 + cy1) / 2 + 6);
      ctx.rotate(Math.PI / 2);
      ctx.fillStyle = '#111';
      drawRich(ctx, [['Density of grid cells', false]], 0, 16.5 * 0.36, 16.5, 'center', 'bold');
      ctx.restore();

      // panel letter
      const bx0 = L.box[0] - ox, by0 = L.box[1] - oy, bx1 = L.box[2] - ox, by1 = L.box[3] - oy;
      ctx.fillStyle = '#eeeeee';
      ctx.fillRect(bx0, by0, bx1 - bx0, by1 - by0);
      ctx.fillStyle = '#000';
      ctx.font = `27px ${TFONT}`;
      ctx.textAlign = 'center';
      ctx.textBaseline = 'middle';
      ctx.fillText(panelLetters[i], (bx0 + bx1) / 2, (by0 + by1) / 2 + 1);
      ctx.restore();
    }
  };
}

function Panel({ i }: { i: number }) {
  const ref = useRef<HTMLCanvasElement | null>(null);
  const L = LAYOUT[i];
  const row = i % 3;
  const w = L.plot[2] - L.plot[0] + PADL + PADR;
  const h = L.plot[3] - L.plot[1] + PADT + PADB;
  useEffect(() => {
    if (!ref.current) return;
    const pts = [...panelPoints[i]].sort((a, b) => a[2] - b[2]);
    const x0 = fitXFrom[i], x1 = fitXTo[i];
    const chart = new Chart(ref.current, {
      type: 'scatter',
      data: {
        datasets: [
          {
            label: 'fit',
            data: [{ x: x0, y: fitSlopes[i] * x0 + fitIntercepts[i] }, { x: x1, y: fitSlopes[i] * x1 + fitIntercepts[i] }],
            showLine: true,
            borderColor: '#5aa2dc',
            borderWidth: 1.4,
            pointRadius: 0,
            order: 0,
          } as any,
          {
            label: 'cells',
            data: pts.map(p => ({ x: p[0], y: p[1] })),
            pointRadius: 1.5,
            pointBorderWidth: 0,
            pointBackgroundColor: pts.map(p => cmap(p[2])),
            pointBorderColor: 'rgba(0,0,0,0)',
            order: 1,
          } as any,
        ],
      },
      options: {
        responsive: false,
        animation: false,
        devicePixelRatio: 1,
        layout: { padding: { left: 0, top: PADT, right: PADR, bottom: 0 } },
        plugins: { legend: { display: false }, tooltip: { enabled: false }, title: { display: false } },
        events: [],
        scales: {
          x: {
            type: 'linear',
            min: xMinByRow[row],
            max: xMaxByRow[row],
            grid: { display: false, drawTicks: false },
            border: { display: false },
            afterFit: (s: any) => { s.height = PADB; },
            ticks: {
              stepSize: xStepByRow[row],
              autoSkip: false,
              maxRotation: 0,
              padding: 8,
              color: '#262626',
              font: { size: 15.5, family: FONT },
              callback: (v: any) => String(Math.round(Number(v) * 10) / 10),
            },
          },
          y: {
            type: 'linear',
            min: yMin,
            max: yMax,
            grid: { display: false, drawTicks: false },
            border: { display: false },
            afterFit: (s: any) => { s.width = PADL; },
            ticks: {
              stepSize: yStep,
              autoSkip: false,
              padding: 6,
              color: '#262626',
              font: { size: 15.5, family: FONT },
              callback: (v: any) => String(Math.round(Number(v))),
            },
          },
        },
      } as any,
      plugins: [makeDecor(i)],
    });
    return () => chart.destroy();
  }, [i]);
  return (
    <canvas
      ref={ref}
      width={w}
      height={h}
      style={{ position: 'absolute', left: L.plot[0] - PADL, top: L.plot[1] - PADT, width: w, height: h }}
    />
  );
}

export default function App() {
  return (
    <div style={{ position: 'absolute', left: 0, top: 0, width: 1368, height: 1042, overflow: 'hidden', background: '#fff' }}>
      {panelPoints.map((_, i) => <Panel key={i} i={i} />)}
      {columnTitles.map((t, c) => (
        <div
          key={t}
          style={{
            position: 'absolute', left: TITLE_POS[c].cx - 220, top: TITLE_POS[c].top, width: 440,
            textAlign: 'center', fontFamily: TFONT, fontSize: 28, lineHeight: '30px', color: '#111', whiteSpace: 'nowrap',
          }}
        >{t}</div>
      ))}
    </div>
  );
}
